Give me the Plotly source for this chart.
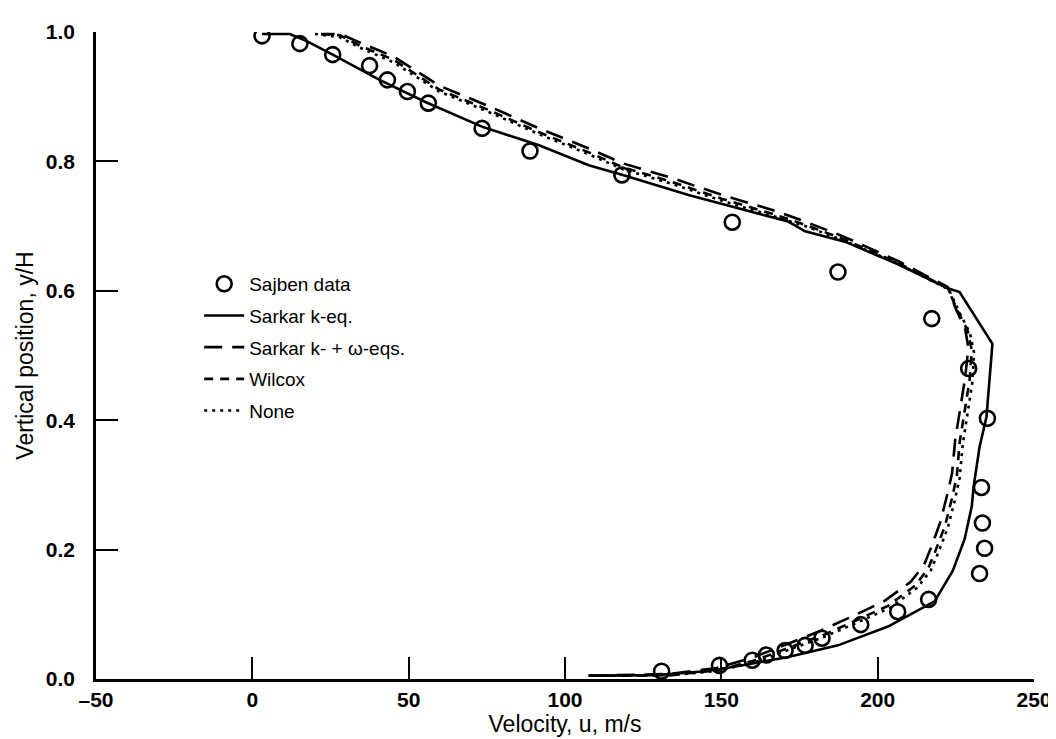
import plotly.graph_objects as go

# Sajben experimental data
sajben_u = [3.1, 15.2, 25.7, 37.5, 43.2, 49.6, 56.3, 73.5, 88.8, 118.2, 153.5, 187.3, 217.3,
            229.1, 235.1, 233.2, 233.5, 234.2, 232.6, 216.3, 206.4, 194.6, 182.2, 176.8,
            170.4, 164.4, 159.9, 149.4, 130.9]
sajben_y = [0.994, 0.982, 0.965, 0.948, 0.926, 0.908, 0.890, 0.851, 0.816, 0.779, 0.706, 0.629,
            0.557, 0.480, 0.403, 0.296, 0.241, 0.202, 0.163, 0.123, 0.104, 0.084, 0.063, 0.052,
            0.044, 0.037, 0.029, 0.021, 0.012]

# Sarkar k-eq.
keq_u = [107.6, 129.0, 144.9, 155.5, 171.4, 187.3, 203.3, 218.2, 224.0, 227.8, 230.1, 230.7,
         232.6, 234.8, 236.7, 226.2, 222.4, 206.5, 189.5, 176.8, 171.4, 155.5, 139.5, 118.5,
         107.6, 91.7, 73.8, 55.7, 40.7, 25.7, 17.4, 12.0, 3.1]
keq_y = [0.005, 0.006, 0.012, 0.020, 0.034, 0.052, 0.081, 0.120, 0.167, 0.216, 0.267, 0.298,
         0.359, 0.405, 0.518, 0.598, 0.604, 0.641, 0.676, 0.692, 0.707, 0.727, 0.748, 0.779,
         0.794, 0.825, 0.853, 0.891, 0.926, 0.965, 0.986, 0.997, 0.997]

# Sarkar k- + omega-eqs.
kw_u = [107.6, 134.0, 148.5, 160.0, 170.5, 181.0, 191.5, 202.0, 210.5, 214.8, 217.0, 220.0,
        222.2, 223.8, 224.8, 226.5, 228.0, 229.0, 228.0, 225.0, 222.4, 206.5, 189.5, 176.8,
        166.3, 150.3, 134.4, 118.5, 107.6, 91.7, 75.8, 59.8, 45.2, 34.3, 28.0, 22.0]
kw_y = [0.005, 0.008, 0.017, 0.033, 0.053, 0.073, 0.096, 0.120, 0.150, 0.176, 0.202, 0.242,
        0.284, 0.318, 0.370, 0.420, 0.466, 0.512, 0.541, 0.572, 0.606, 0.646, 0.683, 0.707,
        0.725, 0.748, 0.774, 0.797, 0.820, 0.851, 0.885, 0.917, 0.962, 0.984, 0.997, 0.997]

# Wilcox
wil_u = [107.6, 134.4, 149.1, 160.9, 171.4, 182.2, 192.8, 203.3, 211.9, 216.1, 218.3, 221.5,
         223.7, 225.3, 226.2, 227.8, 229.4, 230.1, 228.8, 225.6, 222.4, 206.5, 189.5, 176.8,
         166.3, 150.3, 134.4, 118.5, 107.6, 91.7, 75.8, 59.8, 45.2, 34.3, 28.0, 20.6]
wil_y = [0.005, 0.006, 0.014, 0.029, 0.048, 0.067, 0.090, 0.113, 0.144, 0.170, 0.196, 0.236,
         0.278, 0.313, 0.365, 0.416, 0.462, 0.508, 0.538, 0.569, 0.604, 0.643, 0.679, 0.702,
         0.719, 0.742, 0.768, 0.791, 0.814, 0.845, 0.879, 0.911, 0.957, 0.979, 0.995, 0.997]

# None
non_u = [107.6, 134.6, 149.5, 161.4, 172.0, 182.8, 193.4, 204.0, 212.6, 216.9, 219.2, 222.4,
         224.6, 226.2, 227.2, 228.8, 230.3, 230.8, 229.5, 226.2, 222.8, 206.5, 189.5, 176.8,
         166.3, 150.3, 134.4, 118.5, 107.6, 91.7, 75.8, 59.8, 45.2, 34.3, 28.0, 20.0]
non_y = [0.005, 0.006, 0.013, 0.027, 0.046, 0.065, 0.087, 0.110, 0.141, 0.167, 0.193, 0.233,
         0.275, 0.310, 0.362, 0.413, 0.459, 0.505, 0.535, 0.566, 0.602, 0.642, 0.677, 0.700,
         0.716, 0.739, 0.765, 0.788, 0.811, 0.842, 0.876, 0.908, 0.953, 0.976, 0.992, 0.997]

x_ticks = [-50, 0, 50, 100, 150, 200, 250]
y_ticks = [0.0, 0.2, 0.4, 0.6, 0.8, 1.0]

LW = 2.6
FAM = "Liberation Sans, Arial, sans-serif"
fig = go.Figure()
fig.add_trace(go.Scatter(x=sajben_u, y=sajben_y, mode="markers", name="Sajben data",
                         legendgroup="a",
                         marker=dict(symbol="circle-open", size=15, color="black",
                                     line=dict(width=2.6, color="black"))))
fig.add_trace(go.Scatter(x=keq_u, y=keq_y, mode="lines", name="Sarkar k-eq.", legendgroup="b",
                         line=dict(color="black", width=LW, dash="solid")))
fig.add_trace(go.Scatter(x=kw_u, y=kw_y, mode="lines", name="Sarkar k- + ω-eqs.",
                         legendgroup="c",
                         line=dict(color="black", width=LW, dash="18px,10px")))
fig.add_trace(go.Scatter(x=wil_u, y=wil_y, mode="lines", name="Wilcox", legendgroup="d",
                         line=dict(color="black", width=LW, dash="9px,7px")))
fig.add_trace(go.Scatter(x=non_u, y=non_y, mode="lines", name="None", legendgroup="e",
                         line=dict(color="black", width=LW, dash="3px,5px")))

fig.update_layout(
    width=1056, height=739,
    margin=dict(l=88, r=27, t=20, b=68),
    paper_bgcolor="white", plot_bgcolor="white",
    font=dict(family=FAM, color="black"),
    showlegend=True,
    legend=dict(x=0.11, y=0.64, xanchor="left", yanchor="top",
                bgcolor="rgba(0,0,0,0)", font=dict(size=19, color="black"),
                tracegroupgap=4, itemwidth=40),
    xaxis=dict(range=[-50, 250], tickvals=x_ticks,
               ticktext=[f"{v:d}".replace("-", "–") for v in x_ticks],
               ticks="inside", ticklen=22, tickwidth=2, tickcolor="black",
               showline=True, linecolor="black", linewidth=2.5, showgrid=False, zeroline=False,
               ticklabelstandoff=0,
               tickfont=dict(family=FAM, size=21, color="black", weight="bold"),
               title=dict(text="Velocity, u, m/s", font=dict(size=23, color="black"), standoff=0)),
    yaxis=dict(range=[0, 1.0], tickvals=y_ticks, ticktext=[f"{v:.1f}" for v in y_ticks],
               ticks="inside", ticklen=22, tickwidth=2, tickcolor="black",
               showline=True, linecolor="black", linewidth=2.5, showgrid=False, zeroline=False,
               ticklabelstandoff=14,
               tickfont=dict(family=FAM, size=21, color="black", weight="bold"),
               title=dict(text="Vertical position, y/H", font=dict(size=23, color="black"),
                          standoff=6)),
)
fig.write_html("out.html")
